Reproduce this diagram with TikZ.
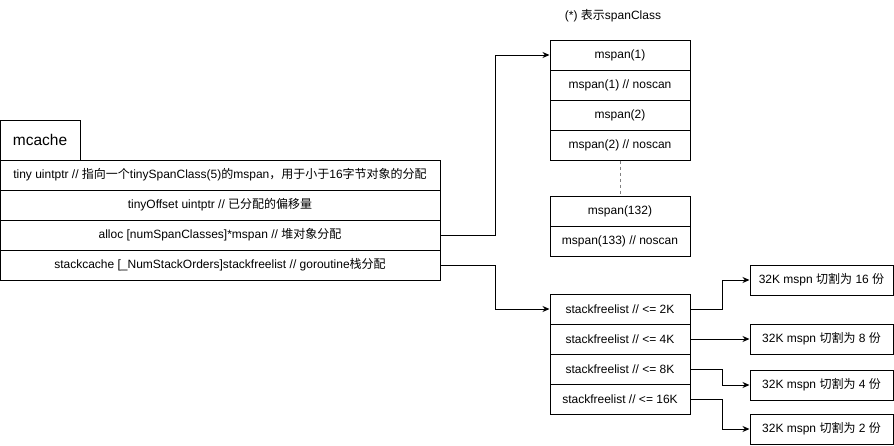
\documentclass[tikz,border=0pt]{standalone}
\usepackage{fontspec}
\setmainfont{Liberation Sans}
\newfontfamily\cjk{Noto Sans CJK SC}
\usetikzlibrary{arrows.meta}

\tikzset{
  cell/.style={draw, line width=1pt, inner sep=0pt, minimum height=30pt,
    font=\fontsize{12}{14}\selectfont},
  wide/.style={cell, minimum width=440pt},
  spancell/.style={cell, minimum width=140pt},
  cutbox/.style={cell, minimum width=143pt},
  link/.style={line width=1pt, -{Stealth[length=7pt,width=6pt]}}
}

\begin{document}
\begin{tikzpicture}[x=1pt,y=-1pt]
  \useasboundingbox (0,0) rectangle (894,445);

  % mcache struct
  \node[cell, minimum width=80pt, minimum height=40pt,
        font=\fontsize{15.5}{17}\selectfont] (mcache) at (40,140) {mcache};
  \node[wide] (tiny) at (220,175) {tiny uintptr // {\cjk 指向一个}tinySpanClass(5){\cjk 的}mspan{\cjk ，用于小于}16{\cjk 字节对象的分配}};
  \node[wide] (tinyoff) at (220,205) {tinyOffset uintptr // {\cjk 已分配的偏移量}};
  \node[wide] (alloc) at (220,235) {alloc [numSpanClasses]*mspan // {\cjk 堆对象分配}};
  \node[wide] (stackcache) at (220,265) {stackcache [\_NumStackOrders]stackfreelist // goroutine{\cjk 栈分配}};

  % mspan list
  \node[font=\fontsize{12}{14}\selectfont] (note) at (613,16) {(*) {\cjk 表示}spanClass};
  \node[spancell] (span1) at (620,55) {mspan(1)};
  \node[spancell] (span1n) at (620,85) {mspan(1) // noscan};
  \node[spancell] (span2) at (620,115) {mspan(2)};
  \node[spancell] (span2n) at (620,145) {mspan(2) // noscan};
  \node[spancell] (span132) at (620,211) {mspan(132)};
  \node[spancell] (span133n) at (620,241) {mspan(133) // noscan};
  \draw[gray, line width=1pt, dashed] (span2n.south) -- (span132.north);

  % stackfreelist
  \node[spancell] (sfl2) at (620,309) {stackfreelist // <= 2K};
  \node[spancell] (sfl4) at (620,339) {stackfreelist // <= 4K};
  \node[spancell] (sfl8) at (620,369) {stackfreelist // <= 8K};
  \node[spancell] (sfl16) at (620,399) {stackfreelist // <= 16K};

  \node[cutbox] (cut16) at (821.5,280) {32K mspn {\cjk 切割为} 16 {\cjk 份}};
  \node[cutbox] (cut8) at (821.5,339) {32K mspn {\cjk 切割为} 8 {\cjk 份}};
  \node[cutbox] (cut4) at (821.5,385) {32K mspn {\cjk 切割为} 4 {\cjk 份}};
  \node[cutbox] (cut2) at (821.5,429) {32K mspn {\cjk 切割为} 2 {\cjk 份}};

  % links
  \draw[link] (alloc.east) -- ++(55,0) |- (span1.west);
  \draw[link] (stackcache.east) -- ++(55,0) |- (sfl2.west);
  \draw[link] (sfl2.east) -- ++(32,0) |- (cut16.west);
  \draw[link] (sfl4.east) -- (cut8.west);
  \draw[link] (sfl8.east) -- ++(32,0) |- (cut4.west);
  \draw[link] (sfl16.east) -- ++(32,0) |- (cut2.west);
\end{tikzpicture}
\end{document}
